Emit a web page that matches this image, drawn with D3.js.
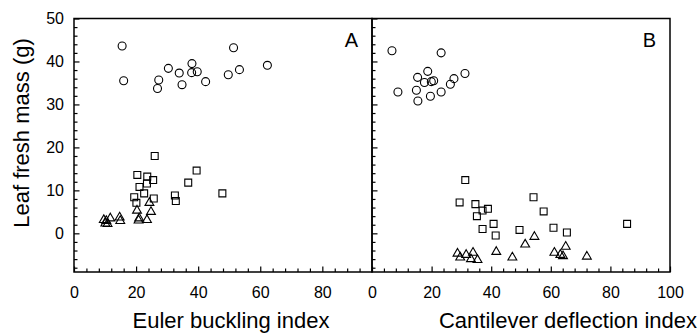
<!DOCTYPE html>
<html>
<head>
<meta charset="utf-8">
<script src="https://cdn.jsdelivr.net/npm/d3@7"></script>
<style>
  html, body { margin: 0; padding: 0; background: #fff; }
  svg { display: block; font-family: "Liberation Sans", Arial, sans-serif; }
</style>
</head>
<body>
<div id="container"></div>
<script>
// --- Data ---
// Panel A: Euler buckling index vs leaf fresh mass
const aCircleX = [15.5, 16.0, 27.3, 26.9, 30.4, 33.9, 34.8, 38.0, 37.9, 39.7, 42.4, 49.7, 51.4, 53.3, 62.3];
const aCircleY = [43.6, 35.5, 35.7, 33.7, 38.4, 37.3, 34.6, 39.5, 37.4, 37.6, 35.3, 36.9, 43.2, 38.1, 39.1];
const aSquareX = [26.0, 20.4, 23.6, 21.1, 23.5, 25.5, 39.5, 36.8, 22.6, 19.4, 20.1, 25.7, 32.5, 32.8, 47.8];
const aSquareY = [18.0, 13.6, 13.2, 10.8, 11.6, 12.4, 14.6, 11.8, 9.3, 8.4, 7.1, 8.1, 8.8, 7.5, 9.3];
const aTriX = [9.6, 10.4, 10.1, 10.8, 11.7, 14.7, 14.9, 20.3, 21.0, 20.8, 24.3, 24.8, 23.5];
const aTriY = [3.1, 2.9, 2.3, 2.2, 3.5, 3.7, 2.9, 5.3, 3.5, 3.0, 7.1, 5.0, 3.1];

// Panel B: Cantilever deflection index vs leaf fresh mass
const bCircleX = [6.7, 8.7, 23.2, 18.7, 15.3, 17.6, 19.9, 20.7, 14.9, 15.4, 19.6, 23.2, 26.3, 27.5, 31.2];
const bCircleY = [42.5, 32.9, 42.0, 37.7, 36.3, 35.1, 35.3, 35.5, 33.3, 30.8, 31.9, 32.9, 34.7, 36.0, 37.2];
const bSquareX = [31.3, 29.4, 34.7, 37.1, 38.9, 35.2, 40.8, 37.1, 41.5, 49.5, 54.2, 57.6, 60.9, 65.4, 85.6];
const bSquareY = [12.4, 7.2, 6.8, 5.3, 5.7, 4.0, 2.2, 1.0, -0.5, 0.8, 8.4, 5.1, 1.3, 0.2, 2.2];
const bTriX = [28.7, 29.6, 31.6, 33.9, 33.2, 35.4, 41.7, 47.1, 51.4, 54.5, 61.2, 63.2, 64.1, 65.0, 72.1];
const bTriY = [-4.7, -5.6, -5.0, -4.5, -6.0, -6.2, -4.3, -5.6, -2.6, -0.8, -4.5, -5.0, -5.3, -3.1, -5.4];

// Ticks
const yLabels = [0, 10, 20, 30, 40, 50];
const aXLabels = [0, 20, 40, 60, 80];
const bXLabels = [0, 20, 40, 60, 80, 100];

const width = 699, height = 335;
const plotTop = 18.5, plotBottom = 272;

const svg = d3.select("#container").append("svg")
  .attr("width", width).attr("height", height);

const y = d3.scaleLinear().domain([-9, 50]).range([plotBottom, plotTop]);
const xA = d3.scaleLinear().domain([0, 96]).range([74, 372]);
const xB = d3.scaleLinear().domain([0, 100]).range([372, 670]);

const zip = (xs, ys) => xs.map((v, i) => [v, ys[i]]);

function styleAxis(ag) {
  ag.select(".domain").remove();
  ag.selectAll("line").attr("stroke", "#000").attr("stroke-width", 1.2);
  ag.selectAll("text").attr("fill", "#000").style("font-size", "16px")
    .style("font-family", "'Liberation Sans', Arial, sans-serif");
}

function panel(x, xMax, xLabels, showYLabels, series, letter) {
  const x0 = x.range()[0], x1 = x.range()[1];

  // minor / major x ticks (pointing up, inside)
  svg.append("g").attr("transform", `translate(0,${plotBottom})`)
    .call(d3.axisBottom(x).tickValues(d3.range(4, xMax, 4).filter((d) => d % 20 !== 0))
      .tickSizeInner(-3.5).tickSizeOuter(0).tickFormat(""))
    .call(styleAxis);
  svg.append("g").attr("transform", `translate(0,${plotBottom})`)
    .call(d3.axisBottom(x).tickValues(xLabels).tickSizeInner(-5.5).tickSizeOuter(0).tickPadding(15))
    .call(styleAxis);

  // y ticks (pointing right, inside)
  svg.append("g").attr("transform", `translate(${x0},0)`)
    .call(d3.axisLeft(y).tickValues(d3.range(-8, 50, 2).filter((d) => d % 10 !== 0))
      .tickSizeInner(-3.5).tickSizeOuter(0).tickFormat(""))
    .call(styleAxis);
  svg.append("g").attr("transform", `translate(${x0},0)`)
    .call(d3.axisLeft(y).tickValues(yLabels).tickSizeInner(-5.5).tickSizeOuter(0).tickPadding(10)
      .tickFormat(showYLabels ? d3.format("d") : ""))
    .call(styleAxis);

  // frame
  svg.append("rect")
    .attr("x", x0).attr("y", plotTop)
    .attr("width", x1 - x0).attr("height", plotBottom - plotTop)
    .attr("fill", "none").attr("stroke", "#000").attr("stroke-width", 1.5);

  // markers
  for (const s of series) {
    svg.append("g").selectAll("path").data(s.pts).join("path")
      .attr("transform", (d) => `translate(${x(d[0])},${y(d[1])})`)
      .attr("d", d3.symbol().type(s.type).size(s.size)())
      .attr("fill", "none").attr("stroke", "#000").attr("stroke-width", 1.1);
  }

  // panel letter
  svg.append("text")
    .attr("x", x1 - 14).attr("y", 46.5)
    .attr("text-anchor", "end")
    .attr("fill", "#000")
    .style("font-size", "20px")
    .text(letter);
}

panel(xA, 96, aXLabels, true, [
  { pts: zip(aCircleX, aCircleY), type: d3.symbolCircle, size: 50 },
  { pts: zip(aSquareX, aSquareY), type: d3.symbolSquare, size: 48 },
  { pts: zip(aTriX, aTriY), type: d3.symbolTriangle, size: 34 },
], "A");

panel(xB, 100, bXLabels, false, [
  { pts: zip(bCircleX, bCircleY), type: d3.symbolCircle, size: 50 },
  { pts: zip(bSquareX, bSquareY), type: d3.symbolSquare, size: 48 },
  { pts: zip(bTriX, bTriY), type: d3.symbolTriangle, size: 34 },
], "B");

// --- Axis titles ---
svg.append("text")
  .attr("x", 231).attr("y", 328)
  .attr("text-anchor", "middle").attr("fill", "#000")
  .style("font-size", "22px")
  .text("Euler buckling index");

svg.append("text")
  .attr("x", 568).attr("y", 328)
  .attr("text-anchor", "middle").attr("fill", "#000")
  .style("font-size", "22px")
  .text("Cantilever deflection index");

svg.append("text")
  .attr("transform", "rotate(-90)")
  .attr("x", -133).attr("y", 29)
  .attr("text-anchor", "middle").attr("fill", "#000")
  .style("font-size", "22px")
  .text("Leaf fresh mass (g)");
</script>
</body>
</html>
